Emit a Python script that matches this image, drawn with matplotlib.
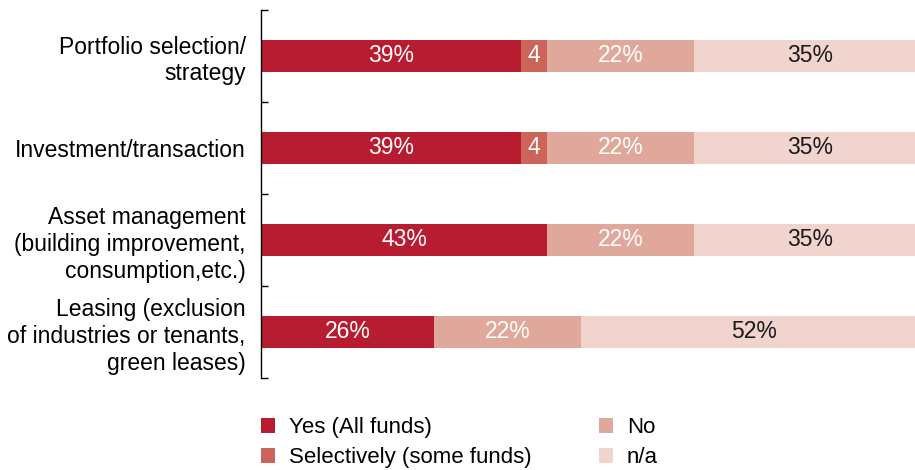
import matplotlib.pyplot as plt
import numpy as np

plt.rcParams['font.family'] = ['Liberation Sans', 'DejaVu Sans']

categories = ['Portfolio selection/\nstrategy',
              'Investment/transaction',
              'Asset management\n(building improvement,\nconsumption,etc.)',
              'Leasing (exclusion\nof industries or tenants,\ngreen leases)']
yes_all = [39, 39, 43, 26]
selectively = [4, 4, 0, 0]
no = [22, 22, 22, 22]
na = [35, 35, 35, 52]

series = [('Yes (All funds)', yes_all, '#b71c30', 'white', '{}%'),
          ('Selectively (some funds)', selectively, '#cc6459', 'white', '{}'),
          ('No', no, '#e0a89b', 'white', '{}%'),
          ('n/a', na, '#f1d4cd', '#1a1a1a', '{}%')]

fig = plt.figure(figsize=(9.15, 4.7), dpi=100)
ax = fig.add_axes([261/915, 1-378/470, 1-261/915, (378-10)/470])

y = np.arange(len(categories))
left = np.zeros(len(categories))
for name, vals, col, tcol, fmt in series:
    vals = np.array(vals, dtype=float)
    ax.barh(y, vals, left=left, height=0.34, color=col, label=name)
    for yi, l, v in zip(y, left, vals):
        if v > 0:
            ax.text(l + v/2, yi, fmt.format(int(v)), ha='center', va='center',
                    color=tcol, fontsize=16.5)
    left += vals

ax.set_xlim(0, 98.2)
ax.set_ylim(len(categories) - 0.5, -0.5)
ax.set_yticks(y)
ax.set_yticklabels(categories, fontsize=16.5, ha='right', multialignment='right',
                   linespacing=1.22)
ax.tick_params(axis='y', which='major', length=0, pad=11)
ax.set_yticks(np.arange(len(categories) + 1) - 0.5, minor=True)
ax.tick_params(axis='y', which='minor', length=5, direction='in', width=1)
ax.set_xticks([])
for s in ['top', 'right', 'bottom']:
    ax.spines[s].set_visible(False)
ax.spines['left'].set_linewidth(1)

fig.legend(loc='upper left', bbox_to_anchor=(261/915, 1-417/470), ncol=2,
           frameon=False, fontsize=16, handlelength=0.65, handleheight=0.65,
           handletextpad=0.62, columnspacing=3.0, labelspacing=0.42, borderpad=0,
           borderaxespad=0)

fig.savefig('out.png', dpi=100)
